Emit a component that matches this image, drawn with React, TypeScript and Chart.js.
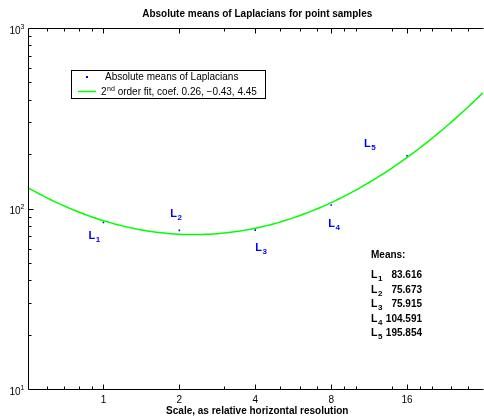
import React, { useEffect, useRef } from "react";
import { Chart, registerables } from "chart.js";

Chart.register(...registerables);

// Sample scales (relative horizontal resolution) and the mean absolute Laplacian at each
const SCALES = [1, 2, 4, 8, 16];
const MEANS = [83.616, 75.673, 75.915, 104.591, 195.854];
const MEAN_TEXT = ["83.616", "75.673", "75.915", "104.591", "195.854"];
const POINT_NAMES = ["1", "2", "3", "4", "5"];

// Quadratic fit in log-log space: ln(y) = a*ln(x)^2 + b*ln(x) + c
const FIT_COEFS = [0.26, -0.43, 4.45];

// Axis ranges and ticks
const X_RANGE = [0.5, 32];
const Y_RANGE = [10, 1000];
const X_TICKS = [1, 2, 4, 8, 16];
const X_MINOR = [0.6, 0.7, 0.8, 0.9, 3, 5, 6, 7, 9, 10, 14, 18, 20, 24, 28];
const Y_TICKS = [10, 100, 1000];
const Y_EXPONENTS = ["1", "2", "3"];
const Y_MINOR = [20, 30, 40, 50, 60, 70, 80, 90, 200, 300, 400, 500, 600, 700, 800, 900];

const TITLE = "Absolute means of Laplacians for point samples";
const X_LABEL = "Scale, as relative horizontal resolution";
const LEGEND_POINTS = "Absolute means of Laplacians";

const FIT_STEPS = 120;

function fitValue(x: number): number {
  const t = Math.log(x);
  return Math.exp(FIT_COEFS[0] * t * t + FIT_COEFS[1] * t + FIT_COEFS[2]);
}

function fmtCoef(c: number): string {
  return (c < 0 ? "\u2212" : "") + Math.abs(c).toFixed(2);
}

const fitData: { x: number; y: number }[] = [];
{
  const l0 = Math.log(X_RANGE[0]);
  const l1 = Math.log(X_RANGE[1]);
  for (let i = 0; i <= FIT_STEPS; i++) {
    const x = Math.exp(l0 + ((l1 - l0) * i) / FIT_STEPS);
    fitData.push({ x, y: fitValue(x) });
  }
}
const pointData = SCALES.map((x, i) => ({ x, y: MEANS[i] }));

const FONT = "Arial, 'Liberation Sans', Helvetica, sans-serif";
const BLUE = "#0000ff";
const GREEN = "#00ff00";

// label placement relative to each point, in pixels
const LABEL_OFFSETS = [
  [-15, 16],
  [-9, -13],
  [0, 21],
  [-3, 22],
  [-43, -9],
];

function drawSub(
  ctx: CanvasRenderingContext2D,
  base: string,
  sub: string,
  x: number,
  y: number,
  size: number,
  color: string,
  bold: boolean,
  raise: number
) {
  const w = bold ? "bold " : "";
  ctx.fillStyle = color;
  ctx.font = `${w}${size}px ${FONT}`;
  ctx.textAlign = "left";
  ctx.textBaseline = "alphabetic";
  ctx.fillText(base, x, y);
  const bw = ctx.measureText(base).width;
  ctx.font = `${w}${Math.round(size * 0.72)}px ${FONT}`;
  ctx.fillText(sub, x + bw + 0.5, y + raise);
  return bw + 0.5 + ctx.measureText(sub).width;
}

const decorations = {
  id: "decorations",
  afterDatasetsDraw(chart: any) {
    const { ctx, chartArea: a, scales } = chart;
    const xs = scales.x;
    const ys = scales.y;
    ctx.save();

    // axes box (right side falls just outside the visible area)
    ctx.strokeStyle = "#000";
    ctx.lineWidth = 1;
    const L = Math.round(a.left) + 0.5;
    const T = Math.round(a.top) + 0.5;
    const B = Math.round(a.bottom) + 0.5;
    const R = Math.round(a.right) + 0.5;
    ctx.beginPath();
    ctx.moveTo(R, T);
    ctx.lineTo(L, T);
    ctx.lineTo(L, B);
    ctx.lineTo(R, B);
    ctx.stroke();

    // x ticks (bottom and top, pointing inward)
    const xTick = (v: number, len: number) => {
      const px = Math.round(xs.getPixelForValue(v)) + 0.5;
      ctx.beginPath();
      ctx.moveTo(px, B);
      ctx.lineTo(px, B - len);
      ctx.moveTo(px, T);
      ctx.lineTo(px, T + len);
      ctx.stroke();
    };
    X_MINOR.forEach((v) => xTick(v, 3));
    X_TICKS.forEach((v) => xTick(v, 5));

    // y ticks on the left axis
    const yTick = (v: number, len: number) => {
      const py = Math.round(ys.getPixelForValue(v)) + 0.5;
      ctx.beginPath();
      ctx.moveTo(L, py);
      ctx.lineTo(L + len, py);
      ctx.stroke();
    };
    Y_MINOR.forEach((v) => yTick(v, 3));
    Y_TICKS.forEach((v) => yTick(v, 5));

    // x tick labels
    ctx.fillStyle = "#000";
    ctx.font = `10px ${FONT}`;
    ctx.textAlign = "center";
    ctx.textBaseline = "middle";
    X_TICKS.forEach((v) => {
      ctx.fillText(String(v), xs.getPixelForValue(v), B + 11);
    });

    // y tick labels 10^n
    Y_TICKS.forEach((v, i) => {
      const py = ys.getPixelForValue(v);
      ctx.font = `7px ${FONT}`;
      const ew = ctx.measureText(Y_EXPONENTS[i]).width;
      ctx.font = `10px ${FONT}`;
      const bw = ctx.measureText("10").width;
      const right = L - 4;
      ctx.textAlign = "left";
      ctx.textBaseline = "alphabetic";
      ctx.fillText("10", right - ew - bw, py + 5.5);
      ctx.font = `7px ${FONT}`;
      ctx.fillText(Y_EXPONENTS[i], right - ew, py + 0.5);
    });

    // title and x label
    ctx.fillStyle = "#000";
    ctx.font = `bold 10px ${FONT}`;
    ctx.textAlign = "center";
    ctx.textBaseline = "middle";
    const cx = (a.left + Math.min(a.right, chart.width)) / 2 + 2;
    ctx.fillText(TITLE, cx, 14);
    ctx.fillText(X_LABEL, cx, 411);

    // point labels L_n
    SCALES.forEach((x, i) => {
      const px = xs.getPixelForValue(x);
      const py = ys.getPixelForValue(MEANS[i]);
      drawSub(ctx, "L", POINT_NAMES[i], px + LABEL_OFFSETS[i][0], py + LABEL_OFFSETS[i][1], 11, BLUE, true, 3);
    });

    // means summary
    ctx.fillStyle = "#000";
    ctx.font = `bold 10px ${FONT}`;
    ctx.textAlign = "left";
    ctx.textBaseline = "alphabetic";
    ctx.fillText("Means:", 371, 258);
    MEAN_TEXT.forEach((t, i) => {
      const by = 278 + i * 14.5;
      drawSub(ctx, "L", POINT_NAMES[i], 371, by, 10.5, "#000", true, 3);
      ctx.font = `bold 10px ${FONT}`;
      ctx.textAlign = "right";
      ctx.fillText(t, 422, by);
      ctx.textAlign = "left";
    });

    // legend
    const lx = 71.5;
    const ly = 70.5;
    ctx.fillStyle = "#fff";
    ctx.fillRect(lx, ly, 194, 28);
    ctx.strokeStyle = "#000";
    ctx.lineWidth = 1;
    ctx.strokeRect(lx, ly, 194, 28);
    ctx.fillStyle = BLUE;
    ctx.fillRect(86, 76, 2, 2);
    ctx.fillStyle = "#000";
    ctx.font = `10px ${FONT}`;
    ctx.textAlign = "left";
    ctx.textBaseline = "alphabetic";
    ctx.fillText(LEGEND_POINTS, 105, 80);
    ctx.strokeStyle = GREEN;
    ctx.lineWidth = 1.5;
    ctx.beginPath();
    ctx.moveTo(78, 91.5);
    ctx.lineTo(96, 91.5);
    ctx.stroke();
    const w = drawSub(ctx, "2", "nd", 101, 95, 10, "#000", false, -4);
    ctx.font = `10px ${FONT}`;
    ctx.fillStyle = "#000";
    ctx.fillText(
      " order fit, coef. " + FIT_COEFS.map(fmtCoef).join(", "),
      101 + w,
      95
    );

    ctx.restore();
  },
};

export default function App() {
  const ref = useRef<HTMLCanvasElement>(null);
  useEffect(() => {
    const canvas = ref.current;
    if (!canvas) return;
    const chart = new Chart(canvas, {
      type: "scatter",
      data: {
        datasets: [
          {
            type: "line",
            label: "fit",
            data: fitData,
            borderColor: GREEN,
            borderWidth: 1.5,
            pointRadius: 0,
            fill: false,
            tension: 0,
          },
          {
            type: "scatter",
            label: LEGEND_POINTS,
            data: pointData,
            backgroundColor: BLUE,
            borderColor: BLUE,
            pointStyle: "rect",
            pointRadius: 1.1,
            borderWidth: 0,
          },
        ],
      } as any,
      options: {
        responsive: false,
        animation: false,
        devicePixelRatio: 1,
        layout: { padding: { left: 27.5, top: 28, right: 0, bottom: 30 } },
        plugins: {
          legend: { display: false },
          tooltip: { enabled: false },
          title: { display: false },
        },
        scales: {
          x: { type: "logarithmic", min: X_RANGE[0], max: X_RANGE[1], display: false },
          y: { type: "logarithmic", min: Y_RANGE[0], max: Y_RANGE[1], display: false },
        },
      },
      plugins: [decorations],
    });
    return () => chart.destroy();
  }, []);

  return (
    <div
      style={{
        position: "fixed",
        left: 0,
        top: 0,
        width: 484,
        height: 419,
        overflow: "hidden",
        background: "#fff",
      }}
    >
      <canvas ref={ref} width={487} height={419} style={{ display: "block" }} />
    </div>
  );
}
